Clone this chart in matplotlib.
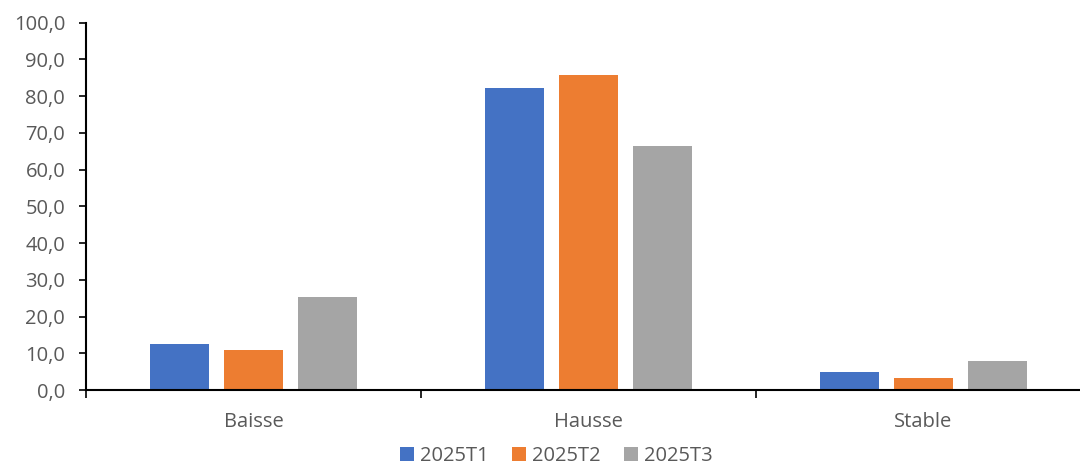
import numpy as np
import matplotlib.pyplot as plt
from matplotlib.ticker import FuncFormatter, FixedLocator

# Data
categories = ['Baisse', 'Hausse', 'Stable']
series = ['2025T1', '2025T2', '2025T3']
t1 = [12.6, 82.3, 4.9]
t2 = [10.8, 85.8, 3.4]
t3 = [25.4, 66.5, 8.0]
colors = ['#4472C4', '#ED7D31', '#A5A5A5']

plt.rcParams['font.family'] = ['Open Sans', 'DejaVu Sans']
txt = '#595959'
fs = 14.5

fig = plt.figure(figsize=(10.8, 4.65), dpi=100)
ax = fig.add_axes([86/1080, 1-390/465, 1005/1080, (390-22.7)/465])

x = np.arange(len(categories))
w = 0.176
step = 0.222
for i, (vals, name) in enumerate(zip([t1, t2, t3], series)):
    ax.bar(x + (i-1)*step, vals, width=w, color=colors[i], label=name, zorder=2)

ax.set_xlim(-0.5, 2.5)
ax.set_ylim(0, 100)
ax.set_yticks(np.arange(0, 101, 10))
ax.yaxis.set_major_formatter(FuncFormatter(lambda v, p: f'{v:.1f}'.replace('.', ',')))
ax.tick_params(axis='y', length=5, width=1.2, colors='black', labelcolor=txt, labelsize=fs, pad=10)

ax.set_xticks(x)
ax.set_xticklabels(categories)
ax.tick_params(axis='x', which='major', length=0, labelcolor=txt, labelsize=fs, pad=16)
ax.xaxis.set_minor_locator(FixedLocator([-0.5, 0.5, 1.5, 2.5]))
ax.tick_params(axis='x', which='minor', length=6, width=1.2, direction='out', color='black')

for s in ['top', 'right']:
    ax.spines[s].set_visible(False)
ax.spines['left'].set_linewidth(1.5)
ax.spines['bottom'].set_linewidth(1.5)

ax.legend(loc='center', bbox_to_anchor=(0.468, -0.18), ncol=3, frameon=False,
          fontsize=fs, labelcolor=txt, handlelength=0.7, handleheight=0.7,
          handletextpad=0.3, columnspacing=1.15, borderaxespad=0, borderpad=0)

fig.savefig('out.png', dpi=100)
